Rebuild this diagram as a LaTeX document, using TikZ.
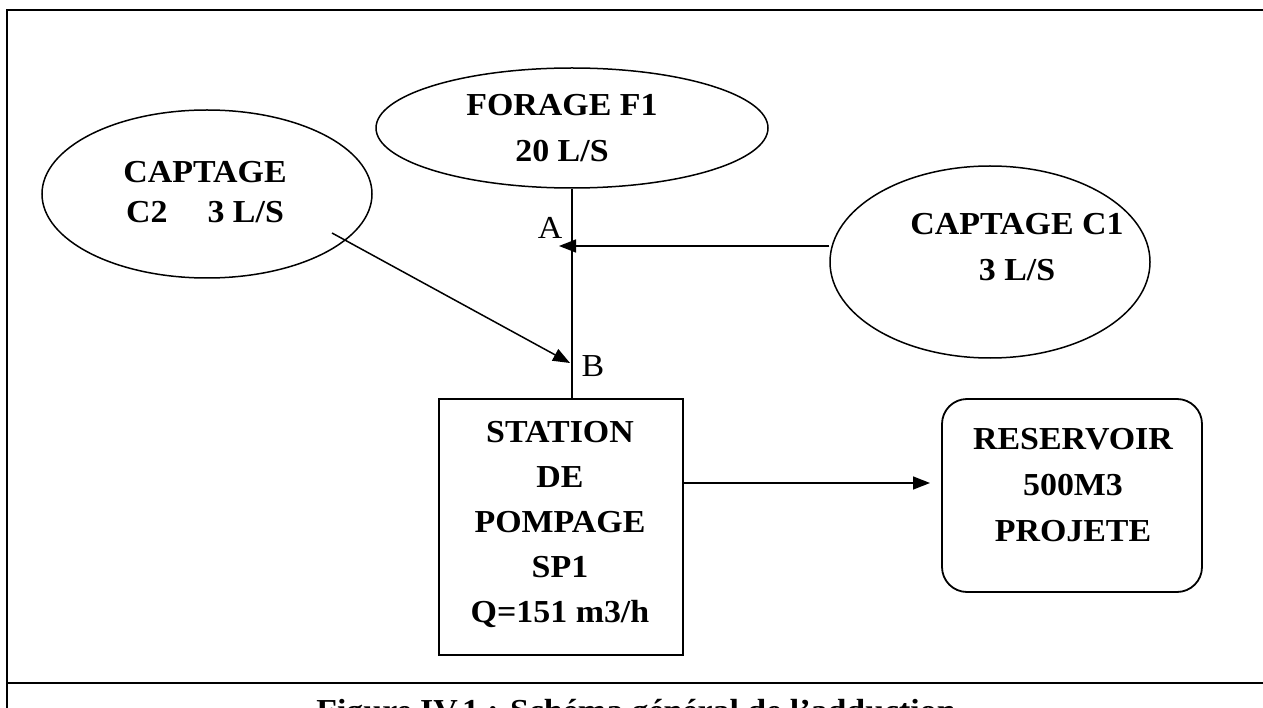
\documentclass[tikz,border=0pt]{standalone}
\usepackage{fontspec}
\setmainfont{Liberation Serif}[FakeStretch=1.06]
\usetikzlibrary{shapes.geometric,arrows.meta}
\begin{document}
\begin{tikzpicture}[x=1pt,y=-1pt,
  ell/.style={draw, ellipse, line width=1.5pt, inner sep=0pt},
  rect/.style={draw, line width=1.8pt, inner sep=0pt},
  lbl/.style={font=\bfseries\fontsize{32}{46}\selectfont, align=center, inner sep=0pt, anchor=north},
  ptlbl/.style={font=\fontsize{32}{38}\selectfont, inner sep=0pt},
  arr/.style={line width=1.5pt, -{Triangle[length=17pt,width=13pt]}},
  ln/.style={line width=1.5pt}]
\useasboundingbox (0,0) rectangle (1263,708);
\clip (0,0) rectangle (1263,708);
\fill[white] (0,0) rectangle (1263,708);
% frame
\draw[line width=1.8pt] (7,708) -- (7,10) -- (1263,10);
\draw[line width=2.2pt] (7,683) -- (1263,683);
% ellipses
\node[ell, minimum width=392pt, minimum height=120pt] (f1) at (572,128) {};
\node[ell, minimum width=330pt, minimum height=168pt] (c2) at (207,194) {};
\node[ell, minimum width=320pt, minimum height=192pt] (c1) at (990,262) {};
% boxes
\node[rect, minimum width=244pt, minimum height=256pt] (sp) at (561,527) {};
\node[rect, rounded corners=25pt, minimum width=260pt, minimum height=193pt] (res) at (1072,495.5) {};
% texts
\node[lbl] (tf1) at (562,94) {FORAGE F1\\20 L/S};
\node[lbl] (tc2) at (205,161) {CAPTAGE\\[-6pt]C2\hspace{40pt}3 L/S};
\node[lbl] (tc1) at (1017,213) {CAPTAGE C1\\3 L/S};
\node[lbl] (tsp) at (560,421) {STATION\\[-1pt]DE\\[-1pt]POMPAGE\\[-1pt]SP1\\[-1pt]Q=151 m3/h};
\node[lbl] (tres) at (1073,428) {RESERVOIR\\500M3\\PROJETE};
% connectors
\draw[ln] (f1.south) -- (f1.south |- sp.north);
\coordinate (tA) at (559,246);
\draw[arr] (tA -| c1.west) -- (tA);
\coordinate (sB) at (332,233);
\coordinate (tB) at (570,363);
\draw[arr] (sB) -- (tB);
\coordinate (tR) at (930,483);
\draw[arr] (tR -| sp.east) -- (tR);
\node[ptlbl] (A) at (550,228) {A};
\node[ptlbl] (B) at (593,366) {B};
% caption
\node[font=\bfseries\fontsize{32}{38}\selectfont, anchor=base, inner sep=0pt] (cap) at (636,721) {Figure IV.1 : Schéma général de l’adduction};
\end{tikzpicture}
\end{document}
